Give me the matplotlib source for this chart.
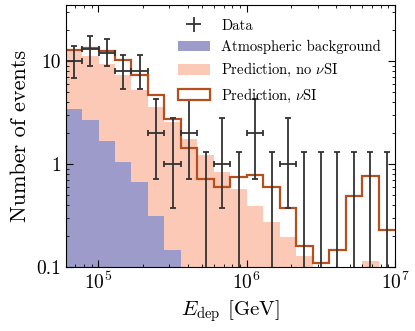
import numpy as np
import matplotlib
matplotlib.use("Agg")
import matplotlib.pyplot as plt
from matplotlib.patches import Patch

plt.rcParams["font.family"] = "serif"
plt.rcParams["font.serif"] = ["cmr10"]
plt.rcParams["mathtext.fontset"] = "cm"
plt.rcParams["axes.formatter.use_mathtext"] = True

# 20 log bins, 60 TeV - 10 PeV
bin_edges = np.logspace(np.log10(6e4), 7, 21)

atm_bkg = [3.39, 2.67, 1.65, 1.05, 0.66, 0.313, 0.146, 0, 0, 0,
           0, 0, 0, 0, 0, 0, 0, 0, 0, 0]
pred_no_nsi = [12.8, 11.2, 9.31, 7.28, 5.23, 3.60, 2.55, 1.75, 1.23, 0.83,
               0.57, 0.39, 0.27, 0.194, 0.128, 0, 0, 0, 0.113, 0]
pred_nsi = [12.8, 13.3, 12.4, 10.3, 7.33, 4.68, 2.75, 1.43, 0.72, 0.59,
            0.75, 0.78, 0.59, 0.372, 0.161, 0.110, 0.147, 0.484, 0.77, 0.229]

data_counts = [10, 13, 12, 8, 8, 2, 1, 2, 0, 1,
               0, 2, 0, 1, 0, 0, 0, 0, 0, 0]
data_lo = [6.8, 8.84, 8.84, 5.31, 5.31, 0.72, 0.37, 0.72, 0, 0.37,
           0, 0.72, 0, 0.37, 0, 0, 0, 0, 0, 0]
data_hi = [14.06, 17.6, 16.3, 11.4, 11.4, 4.3, 2.78, 4.3, 1.29, 2.78,
           1.29, 4.3, 1.29, 2.78, 1.29, 1.29, 1.29, 1.29, 1.29, 1.29]

fig = plt.figure(figsize=(4.15, 3.31), dpi=100)
ax = fig.add_axes([0.158, 0.194, 0.794, 0.791])
ax.set_xscale("log")
ax.set_yscale("log")

ax.stairs(pred_no_nsi, bin_edges, fill=True, baseline=1e-3, color="#fdc9b7")
ax.stairs(atm_bkg, bin_edges, fill=True, baseline=1e-3, color="#9c9bc9")
ax.stairs(pred_nsi, bin_edges, baseline=None, color="#b5501e", lw=1.6)

centers = np.sqrt(bin_edges[:-1] * bin_edges[1:])
counts = np.array(data_counts, dtype=float)
lo = np.array(data_lo)
hi = np.array(data_hi)
nz = counts > 0
z = ~nz
ecol = "#333333"
ax.errorbar(centers[nz], counts[nz],
            xerr=[centers[nz] - bin_edges[:-1][nz], bin_edges[1:][nz] - centers[nz]],
            yerr=[counts[nz] - lo[nz], hi[nz] - counts[nz]],
            fmt="none", ecolor=ecol, elinewidth=1.3, capsize=2.5, capthick=1.3)
ax.errorbar(centers[z], hi[z], yerr=[hi[z] - 1e-3, np.zeros(z.sum())],
            fmt="none", ecolor=ecol, elinewidth=1.3, capsize=2.5, capthick=1.3)

ax.set_xlim(6e4, 1e7)
ax.set_ylim(0.1, 35)
ax.set_yticks([0.1, 1, 10])
ax.set_yticklabels(["0.1", "1", "10"])
ax.tick_params(which="both", direction="in", top=True, right=True, labelsize=14)
ax.tick_params(which="major", length=5)
ax.tick_params(which="minor", length=2.5)
ax.set_xlabel(r"$E_{\rm dep}$ [GeV]", fontsize=15)
ax.set_ylabel("Number of events", fontsize=16)

data_handle = ax.errorbar([], [], xerr=[1], yerr=[1], fmt="none", ecolor=ecol,
                          elinewidth=1.3, capsize=2.5, capthick=1.3)
handles = [data_handle,
           Patch(facecolor="#9c9bc9"),
           Patch(facecolor="#fdc9b7"),
           Patch(facecolor="white", edgecolor="#b5501e", lw=1.6)]
labels = ["Data", "Atmospheric background", r"Prediction, no $\nu$SI",
          r"Prediction, $\nu$SI"]
ax.legend(handles, labels, loc="upper right", frameon=False, fontsize=10.5,
          handlelength=2.2, handleheight=0.75, handletextpad=0.8,
          borderaxespad=0.55, labelspacing=0.5)

fig.savefig("out.png", dpi=100)
